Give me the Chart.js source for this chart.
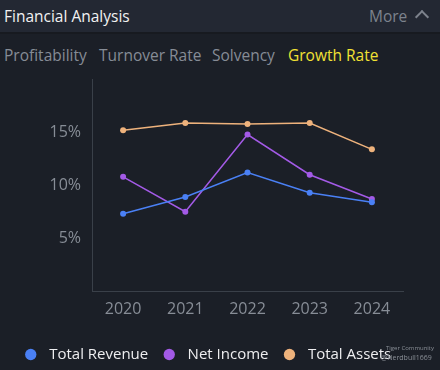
<!DOCTYPE html>
<html>
<head>
<meta charset="utf-8">
<script src="https://cdn.jsdelivr.net/npm/chart.js@4.4.0/dist/chart.umd.min.js"></script>
<style>
  body { margin: 0; width: 440px; height: 370px; background: #1b1f27; font-family: "Open Sans", "Noto Sans", sans-serif; overflow: hidden; position: relative; }
  .head { position: absolute; left: 0; top: 0; width: 440px; height: 32px; background: #232833; border-bottom: 2px solid #171a20; }
  .title { position: absolute; left: 4px; top: 5px; color: #f2f2f2; font-size: 15.5px; }
  .more { position: absolute; left: 369px; top: 5px; color: #7d838d; font-size: 15.5px; }
  .chev { position: absolute; left: 417px; top: 12px; width: 8px; height: 8px; border-left: 2px solid #7d838d; border-top: 2px solid #7d838d; transform: rotate(45deg); }
  .tab { position: absolute; top: 44px; font-size: 15.5px; color: #868c96; white-space: nowrap; }
  .tab.on { color: #f2e234; }
  .chartbox { position: absolute; left: 0; top: 67px; width: 440px; height: 310px; }
  .wm { position: absolute; left: 386px; top: 343px; font-size: 6px; color: #8a8f97; line-height: 10px; }
  .wm b { font-weight: normal; font-size: 7px; margin-left: -5px; }
</style>
</head>
<body>
<div class="head">
  <div class="title">Financial Analysis</div>
  <div class="more">More</div>
  <div class="chev"></div>
</div>
<div class="tab" style="left:4px">Profitability</div>
<div class="tab" style="left:99px">Turnover Rate</div>
<div class="tab" style="left:212px">Solvency</div>
<div class="tab on" style="left:288px">Growth Rate</div>
<div class="chartbox"><canvas id="growth-graph"></canvas></div>
<div class="wm">Tiger Community<br><b>@Nerdbull1669</b></div>
<script>
var years = ["2020", "2021", "2022", "2023", "2024"];
var totalRevenue = [7.3, 8.9, 11.2, 9.3, 8.4];
var netIncome = [10.8, 7.5, 14.8, 11.0, 8.7];
var totalAssets = [15.2, 15.9, 15.8, 15.9, 13.4];
var yTicks = [5, 10, 15];

function lineSet(label, color, values) {
    return {
        label: " " + label,
        data: values,
        borderColor: color,
        backgroundColor: color,
        borderWidth: 1.5,
        pointRadius: 3,
        pointHoverRadius: 3,
        pointBorderWidth: 0,
        tension: 0
    };
}

var data = {
    labels: years,
    datasets: [
        lineSet("Total Revenue", "#4a80f5", totalRevenue),
        lineSet("Net Income", "#a35ae6", netIncome),
        lineSet("Total Assets", "#eeb27c", totalAssets)
    ]
};

// nudge the legend a little to the right, like in the app
var legendShift = {
    id: 'legendShift',
    afterLayout: function (chart) {
        chart.legend.left += 6;
        chart.legend.right += 6;
    }
};

var ctx = document.getElementById("growth-graph");
var growthGraph = new Chart(ctx, {
    type: 'line',
    data: data,
    plugins: [legendShift],
    options: {
        responsive: true,
        maintainAspectRatio: false,
        animation: false,
        layout: { padding: { top: 0, left: 0, right: 37, bottom: 5 } },
        plugins: {
            tooltip: { enabled: false },
            legend: {
                position: 'bottom',
                labels: {
                    usePointStyle: true,
                    pointStyle: 'circle',
                    boxWidth: 14,
                    boxHeight: 8,
                    padding: 14,
                    color: "#eeeef0",
                    font: { family: "Open Sans", size: 15 }
                }
            }
        },
        scales: {
            x: {
                offset: true,
                grid: { display: false, drawTicks: false },
                border: { color: "#3a4049", width: 1 },
                afterFit: function (scale) { scale.height = 42; },
                ticks: { color: "#878d96", font: { family: "Open Sans", size: 16 }, padding: 9 }
            },
            y: {
                min: 0,
                max: 20,
                grid: { display: false },
                border: { color: "#3a4049", width: 1 },
                afterFit: function (scale) { scale.width = 92; },
                ticks: {
                    stepSize: 5,
                    padding: 3,
                    color: "#878d96",
                    font: { family: "Open Sans", size: 16 },
                    callback: function (v) { return yTicks.indexOf(v) >= 0 ? v + "%" : ""; }
                }
            }
        }
    }
});
</script>
</body>
</html>
